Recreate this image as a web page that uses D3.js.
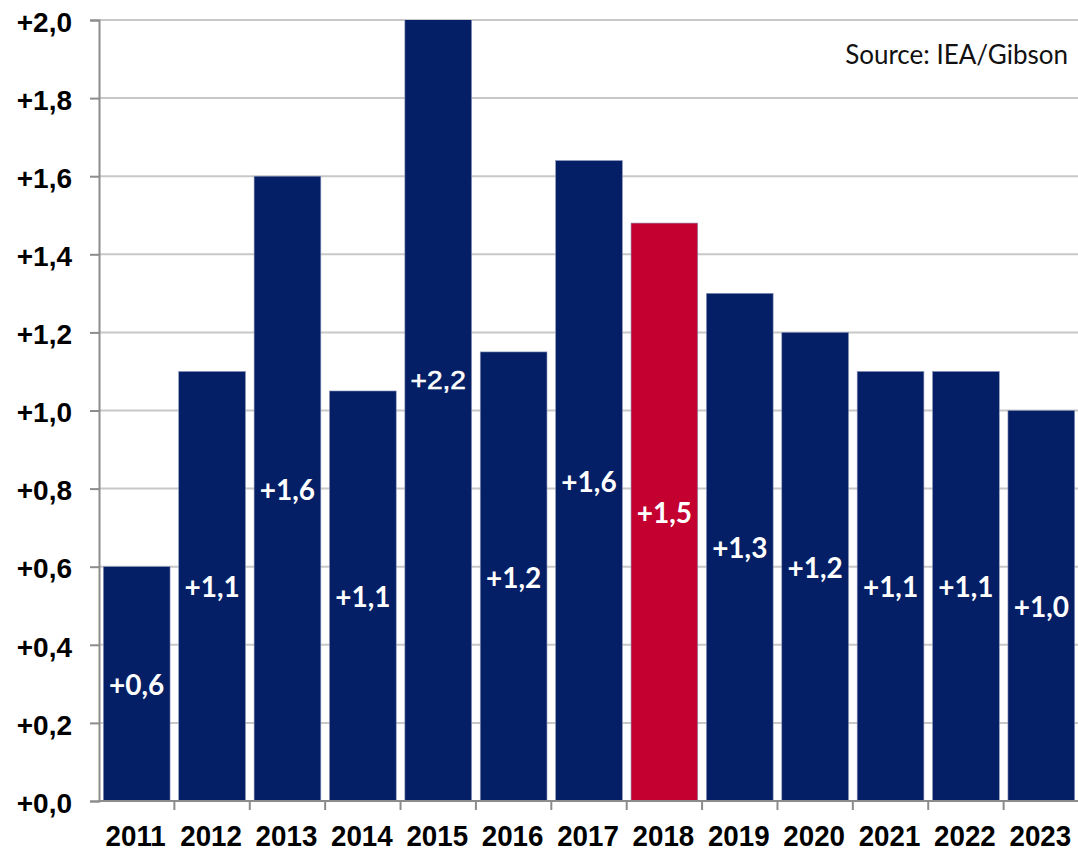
<!DOCTYPE html>
<html>
<head>
<meta charset="utf-8">
<script src="https://cdn.jsdelivr.net/npm/d3@7"></script>
<style>
  html, body { margin: 0; padding: 0; background: #fff; }
  svg { display: block; }
</style>
</head>
<body>
<svg id="chart" width="1078" height="851"></svg>
<script>
// Annual growth, years and values
const years = ["2011", "2012", "2013", "2014", "2015", "2016", "2017", "2018", "2019", "2020", "2021", "2022", "2023"];
const growth = [0.6, 1.1, 1.6, 1.05, 2.2, 1.15, 1.64, 1.48, 1.3, 1.2, 1.1, 1.1, 1.0];
const highlightYear = "2018";
const yTicks = [0, 0.2, 0.4, 0.6, 0.8, 1.0, 1.2, 1.4, 1.6, 1.8, 2.0];
const sourceText = "Source: IEA/Gibson";

const navy = "#041f66";
const red = "#c40030";
const axisGrey = "#8c8c8c";
const arial = "'Liberation Sans', Arial, sans-serif";

const margin = { top: 20, right: -1, bottom: 50, left: 99 };
const W = 1078, H = 851;
const svg = d3.select("#chart");

const x = d3.scaleBand()
  .domain(years)
  .range([margin.left, W - margin.right])
  .paddingInner(0.115)
  .paddingOuter(0.0575);

const y = d3.scaleLinear()
  .domain([0, 2.0])
  .range([H - margin.bottom, margin.top]);

const yMax = y.domain()[1];
const fmt = v => (v >= 0 ? "+" : "") + (Math.round(v * 10) / 10).toFixed(1).replace(".", ",");

// Gridlines
svg.append("g")
  .selectAll("line")
  .data(yTicks.filter(d => d > 0))
  .join("line")
  .attr("x1", margin.left)
  .attr("x2", W)
  .attr("y1", d => y(d))
  .attr("y2", d => y(d))
  .attr("stroke", "#c8c8c8")
  .attr("stroke-width", 2);

// Bars, clipped to the plot area
svg.append("clipPath").attr("id", "plot")
  .append("rect")
  .attr("x", margin.left).attr("y", margin.top)
  .attr("width", W - margin.left).attr("height", H - margin.bottom - margin.top);

const data = years.map((yr, i) => ({ year: yr, value: growth[i] }));

svg.append("g")
  .attr("clip-path", "url(#plot)")
  .selectAll("rect")
  .data(data)
  .join("rect")
  .attr("x", d => x(d.year))
  .attr("width", x.bandwidth())
  .attr("y", d => y(d.value))
  .attr("height", d => y(0) - y(d.value))
  .attr("fill", d => d.year === highlightYear ? red : navy)
  .attr("stroke", "#8a93b8")
  .attr("stroke-width", 0.6);

// Value labels centred within each bar; the off-scale bar gets a plain label
const labels = svg.append("g")
  .selectAll("text")
  .data(data)
  .join("text")
  .attr("text-anchor", "middle")
  .attr("fill", "#fff")
  .text(d => fmt(d.value));

labels.filter(d => d.value <= yMax)
  .attr("x", d => x(d.year) + x.bandwidth() / 2)
  .attr("y", d => (y(0) + y(d.value)) / 2)
  .attr("dy", "0.4em")
  .style("font-family", "Lato, sans-serif")
  .style("font-weight", "700")
  .style("font-size", "28px");

labels.filter(d => d.value > yMax)
  .attr("transform", d => `translate(${x(d.year) + x.bandwidth() / 2},${(y(0) + y(d.value)) / 2 + 18}) scale(1.08,1)`)
  .attr("stroke", "#fff")
  .attr("stroke-width", 0.6)
  .style("font-family", arial)
  .style("font-weight", "400")
  .style("font-size", "26px");

// Y axis
const yAxis = svg.append("g")
  .attr("transform", `translate(${margin.left},0)`)
  .call(d3.axisLeft(y).tickValues(yTicks).tickSize(9).tickPadding(18).tickFormat(fmt));
yAxis.select(".domain").attr("stroke", axisGrey).attr("stroke-width", 2);
yAxis.selectAll(".tick line").attr("stroke", axisGrey).attr("stroke-width", 2);
yAxis.selectAll(".tick text")
  .attr("fill", "#000")
  .attr("dy", "0.4em")
  .style("font-family", arial)
  .style("font-weight", "700")
  .style("font-size", "28px");

// X axis: tick marks at category boundaries
const xg = svg.append("g");
xg.append("line")
  .attr("x1", margin.left).attr("x2", W)
  .attr("y1", y(0)).attr("y2", y(0))
  .attr("stroke", axisGrey).attr("stroke-width", 2);
const bounds = years.map(yr => x(yr) - x.step() * x.paddingInner() / 2);
xg.selectAll("line.b")
  .data(bounds.slice(1))
  .join("line")
  .attr("class", "b")
  .attr("x1", d => d).attr("x2", d => d)
  .attr("y1", y(0)).attr("y2", y(0) + 9)
  .attr("stroke", axisGrey).attr("stroke-width", 2);
xg.selectAll("text")
  .data(years)
  .join("text")
  .attr("transform", d => `translate(${x(d) + x.bandwidth() / 2 - 1},845.5) scale(0.925,1)`)
  .attr("text-anchor", "middle")
  .attr("fill", "#000")
  .style("font-family", arial)
  .style("font-weight", "700")
  .style("font-size", "30px")
  .text(d => d);

// Source note
svg.append("text")
  .attr("x", 1068)
  .attr("y", 64)
  .attr("text-anchor", "end")
  .attr("fill", "#111")
  .style("font-family", "Lato, sans-serif")
  .style("font-size", "26px")
  .text(sourceText);
</script>
</body>
</html>
